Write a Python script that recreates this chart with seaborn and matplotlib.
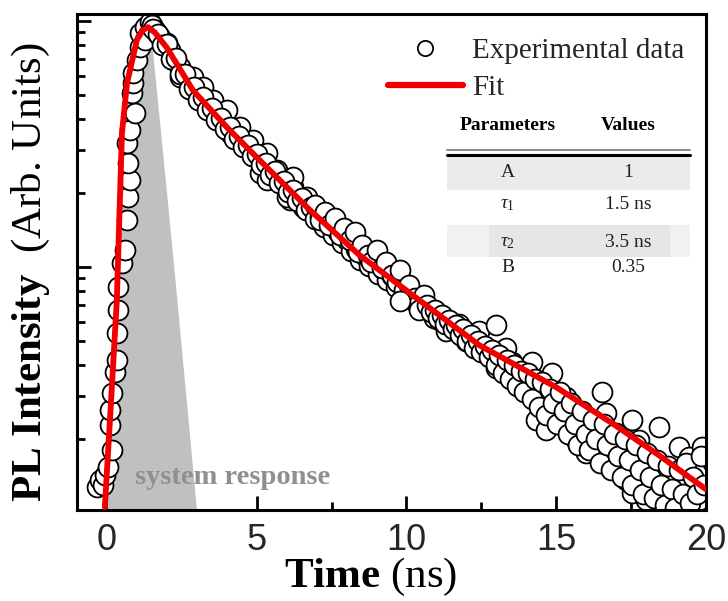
import numpy as np
import pandas as pd
import matplotlib
matplotlib.use("Agg")
import matplotlib.pyplot as plt
import seaborn as sns
from matplotlib.lines import Line2D
from matplotlib.patches import Rectangle
from matplotlib.ticker import LogLocator, NullFormatter, MultipleLocator

# ---------------- data ----------------
rise_t = [-0.33, -0.23, -0.13, -0.07, 0.03, 0.17, 0.10, 0.10, 0.17, 0.27, 0.33, 0.33, 0.37, 0.37,
          0.50, 0.60, 0.67, 0.70, 0.77, 0.70, 0.67, 0.77, 0.93, 0.83, 0.87, 0.87, 1.00, 1.10, 1.10,
          1.27, 1.43, 1.50, 1.60, 1.37, 1.27]
rise_v = [0.128, 0.136, 0.130, 0.143, 0.154, 0.180, 0.228, 0.262, 0.308, 0.374, 0.419, 0.539, 0.668, 0.830,
          1.04, 1.17, 1.55, 1.93, 2.26, 2.65, 3.19, 3.61, 4.23, 5.10, 5.60, 6.15, 6.94, 7.84, 8.93,
          9.46, 9.91, 9.63, 9.19, 8.77, 8.37]

decay_t = [1.77, 2.00, 2.20, 2.43, 2.77, 3.10, 3.43, 3.77, 4.10, 4.53, 4.87, 5.33, 5.77, 6.20, 6.67,
           1.67, 2.10, 2.43, 2.87, 3.20, 3.53, 4.00, 4.43, 4.87, 5.33, 5.67, 6.20, 6.10, 6.53,
           5.10, 5.33, 6.00,
           1.55, 1.70, 1.85, 2.00, 2.15, 2.30, 2.45, 2.60, 2.75, 2.90, 3.05, 3.20, 3.35, 3.50,
           3.65, 3.80, 3.95, 4.10, 4.25, 4.40, 4.55, 4.70, 4.85, 5.00, 5.15, 5.30, 5.45, 5.60,
           5.75, 5.90, 6.05, 6.20, 6.35, 6.50, 6.65, 6.80, 6.95, 7.10, 7.25, 7.40, 7.55, 7.70,
           7.85, 8.00, 8.15, 8.30, 8.45, 8.60, 8.75, 8.90, 9.05, 9.20, 9.35, 9.50, 9.65, 9.80,
           9.95, 10.10, 10.25, 10.40, 10.55]
decay_v = [8.61, 8.14, 6.94, 5.92, 5.75, 4.91, 4.35, 3.96, 3.51, 3.28, 2.90, 2.55, 2.32, 2.11, 1.93,
           8.93, 7.62, 6.50, 5.92, 5.39, 4.77, 4.35, 3.71, 3.28, 2.90, 2.48, 2.32, 1.87, 1.75,
           2.41, 2.26, 1.93,
           9.3, 8.9, 8.0, 8.1, 7.0, 7.1, 6.1, 6.1, 5.3, 5.4, 4.8, 4.9, 4.35, 4.45,
           3.95, 4.05, 3.65, 3.72, 3.33, 3.42, 3.07, 3.14, 2.82, 2.88, 2.60, 2.66, 2.38, 2.45,
           2.19, 2.25, 2.02, 2.06, 1.85, 1.91, 1.71, 1.75, 1.57, 1.62, 1.46, 1.50, 1.35, 1.39,
           1.25, 1.29, 1.16, 1.19, 1.07, 1.11, 1.01, 1.04, 0.94, 0.98, 0.89, 0.92, 0.83, 0.86,
           0.78, 0.81, 0.73, 0.76, 0.69]

tail_t = [6.93, 7.10, 7.27, 7.43, 7.60, 7.77, 7.93, 8.10, 8.27, 8.37, 8.50, 8.70, 8.83, 9.03, 9.17,
          9.33, 9.50, 9.67, 9.77, 9.93, 10.10, 10.27, 10.37, 10.60, 10.77, 10.93,
          9.77, 10.43, 11.10, 11.33, 11.77, 12.00, 12.43, 12.43, 13.00, 12.87, 13.00, 13.33, 13.53,
          13.77, 14.20, 14.10, 14.33, 14.67, 14.87, 14.77, 15.33, 15.43, 15.67, 15.87, 16.00, 16.20,
          16.53, 16.67, 16.77, 17.00, 17.10, 17.33, 17.53, 17.77, 17.53, 18.00, 18.10, 18.43, 18.67,
          18.87, 19.10, 19.20, 19.43, 19.67, 19.77, 19.87,
          10.70, 10.82, 10.94, 11.06, 11.18, 11.30, 11.42, 11.54, 11.66, 11.78, 11.90, 12.02,
          12.14, 12.26, 12.38, 12.50, 12.62, 12.74, 12.86, 12.98, 13.10, 13.22, 13.34, 13.46,
          13.58, 13.70, 13.82, 13.94, 14.06, 14.18, 14.30, 14.42, 14.54, 14.66, 14.78, 14.90,
          15.02, 15.14, 15.26, 15.38, 15.50, 15.62, 15.74, 15.86, 15.98, 16.10, 16.22, 16.34,
          16.46, 16.58, 16.70, 16.82, 16.94, 17.06, 17.18, 17.30, 17.42, 17.54, 17.66, 17.78,
          17.90, 18.02, 18.14, 18.26, 18.38, 18.50, 18.62, 18.74, 18.86, 18.98, 19.10, 19.22,
          19.34, 19.46, 19.58, 19.70, 19.82, 19.94]
tail_v = [1.79, 1.55, 1.67, 1.48, 1.58, 1.35, 1.44, 1.29, 1.39, 1.15, 1.23, 1.12, 1.05, 1.17, 0.99,
          1.05, 0.93, 0.87, 0.97, 0.81, 0.85, 0.75, 0.70, 0.77, 0.67, 0.62,
          0.73, 0.67, 0.61, 0.55, 0.59, 0.50, 0.55, 0.49, 0.58, 0.45, 0.39, 0.47, 0.41,
          0.357, 0.41, 0.325, 0.239, 0.217, 0.371, 0.288, 0.296, 0.255, 0.198, 0.224, 0.175, 0.211,
          0.310, 0.255, 0.185, 0.211, 0.160, 0.136, 0.239, 0.198, 0.121, 0.113, 0.164, 0.224, 0.146,
          0.113, 0.185, 0.128, 0.169, 0.146, 0.113, 0.185,
          0.70, 0.66, 0.67, 0.62, 0.64, 0.59, 0.61, 0.56, 0.58, 0.53, 0.56, 0.50,
          0.53, 0.47, 0.50, 0.45, 0.48, 0.43, 0.46, 0.40, 0.44, 0.37, 0.42, 0.35,
          0.40, 0.33, 0.38, 0.31, 0.37, 0.29, 0.35, 0.27, 0.34, 0.25, 0.32, 0.28,
          0.23, 0.31, 0.26, 0.21, 0.28, 0.23, 0.19, 0.26, 0.21, 0.18, 0.24, 0.20,
          0.16, 0.23, 0.19, 0.15, 0.21, 0.17, 0.14, 0.20, 0.165, 0.13, 0.19, 0.15,
          0.12, 0.175, 0.14, 0.115, 0.165, 0.13, 0.108, 0.155, 0.125, 0.105, 0.15, 0.12,
          0.16, 0.11, 0.14, 0.12, 0.17, 0.13]

fit_t = [-0.07, 0.10, 0.33, 0.50, 0.67, 1.00, 1.20, 1.37, 1.60, 2.00, 2.87, 4.00, 5.10,
         6.77, 8.43, 10.43, 12.43, 15.00, 16.87, 18.43, 20.00]
fit_v = [0.106, 0.239, 0.734, 3.50, 5.60, 8.40, 9.20, 9.46, 9.00, 7.80, 5.24, 3.71, 2.72,
         1.71, 1.12, 0.734, 0.482, 0.325, 0.232, 0.172, 0.125]

# system response (grey area) outline
sr_t = [0.00, 0.33, 0.50, 0.67, 1.00, 1.37, 1.45, 1.70, 2.03, 2.33, 3.05]
sr_v = [0.09, 0.734, 3.50, 5.60, 8.40, 9.46, 9.60, 4.77, 1.87, 0.78, 0.09]

legend_labels = ["Experimental data", "Fit"]
table_header = ["Parameters", "Values"]
table_params = ["A", r"$\tau_1$", r"$\tau_2$", "B"]
table_values = ["1", "1.5 ns", "3.5 ns", "0.35"]

x_ticks = [0, 5, 10, 15, 20]

# ---------------- style ----------------
sns.set_theme(style="ticks")
plt.rcParams.update({
    "font.family": ["Liberation Serif", "DejaVu Serif"],
    "mathtext.fontset": "custom",
    "mathtext.rm": "Liberation Serif",
    "mathtext.it": "Liberation Serif:italic",
    "mathtext.bf": "Liberation Serif:bold",
    "axes.linewidth": 2.2,
    "axes.edgecolor": "black",
})

fig = plt.figure(figsize=(7.28, 6.01), dpi=100)
ax = fig.add_axes([77 / 728, 91 / 601, 629 / 728, 496 / 601])

exp_df = pd.DataFrame({"t": rise_t + decay_t + tail_t, "v": rise_v + decay_v + tail_v})
fit_df = pd.DataFrame({"t": fit_t, "v": fit_v})

ax.fill(sr_t, sr_v, color="#c0c0c0", lw=0, zorder=1)

sns.scatterplot(data=exp_df, x="t", y="v", marker="o", s=205, color="white",
                edgecolor="black", linewidth=1.3, ax=ax, zorder=2, legend=False)
sns.lineplot(data=fit_df, x="t", y="v", color="#f00000", lw=4.2, ax=ax, zorder=3,
             sort=False, estimator=None, solid_capstyle="round")

ax.set_yscale("log")
ax.set_xlim(-1, 20)
ax.set_ylim(0.103, 10.7)
ax.yaxis.set_major_locator(LogLocator(base=10, numticks=10))
ax.yaxis.set_minor_locator(LogLocator(base=10, subs=np.arange(2, 10), numticks=10))
ax.yaxis.set_major_formatter(NullFormatter())
ax.yaxis.set_minor_formatter(NullFormatter())
ax.set_xticks(x_ticks)
ax.set_xticklabels([str(v) for v in x_ticks])
ax.xaxis.set_minor_locator(MultipleLocator(2.5))
ax.tick_params(which="both", direction="in", top=False, right=False, color="black")
ax.tick_params(which="major", length=10, width=2)
ax.tick_params(which="minor", length=5.5, width=2)
ax.tick_params(axis="x", labelsize=26, pad=9, labelfontfamily="Liberation Sans")

ax.set_xlabel(r"$\mathbf{Time}$ (ns)", fontsize=31, color="black")
ax.xaxis.set_label_coords(0.466, -0.092)
ax.set_ylabel(r"$\mathbf{PL\ Intensity}$  (Arb. Units)", fontsize=31, color="black")
ax.yaxis.set_label_coords(-0.040, 0.48)

ax.text(0.93, 0.14, "system response", fontsize=20.5, fontweight="bold", color="#8f8f8f",
        ha="left", va="center", zorder=4)

# legend
handles = [
    Line2D([], [], marker="o", ls="none", mfc="white", mec="black", ms=11, mew=1.3),
    Line2D([], [], color="#f00000", lw=4.5, solid_capstyle="round"),
]
ax.legend(handles, legend_labels, loc="upper left",
          bbox_to_anchor=(388 / 728, (601 - 38) / 601), bbox_transform=fig.transFigure,
          frameon=False, fontsize=21, handlelength=2.57, handletextpad=0.3,
          borderpad=0, borderaxespad=0, labelspacing=0.34)

# parameter table (axes coordinates)
tr = ax.transAxes
ax.add_patch(Rectangle((0.588, 0.645), 0.387, 0.067, transform=tr, color="#ebebeb", lw=0, zorder=5))
ax.add_patch(Rectangle((0.588, 0.510), 0.387, 0.065, transform=tr, color="#f1f1f1", lw=0, zorder=5))
ax.add_patch(Rectangle((0.655, 0.510), 0.288, 0.065, transform=tr, color="#e6e6e6", lw=0, zorder=5))
ax.plot([0.588, 0.975], [0.726, 0.726], transform=tr, color="#8a8a8a", lw=1.4, zorder=6)
ax.plot([0.588, 0.975], [0.716, 0.716], transform=tr, color="black", lw=2.2, zorder=6)

col_x = [0.685, 0.876]
for cx, h in zip(col_x, table_header):
    ax.text(cx, 0.776, h, transform=tr, fontsize=14, fontweight="bold", ha="center",
            va="center", zorder=7, color="black")
row_y = [0.681, 0.615, 0.540, 0.488]
for ry, p, v in zip(row_y, table_params, table_values):
    ax.text(col_x[0], ry, p, transform=tr, fontsize=14, ha="center", va="center", zorder=7,
            color="#222222")
    ax.text(col_x[1], ry, v, transform=tr, fontsize=14, ha="center", va="center", zorder=7,
            color="#222222")

fig.savefig("out.png", dpi=100)
